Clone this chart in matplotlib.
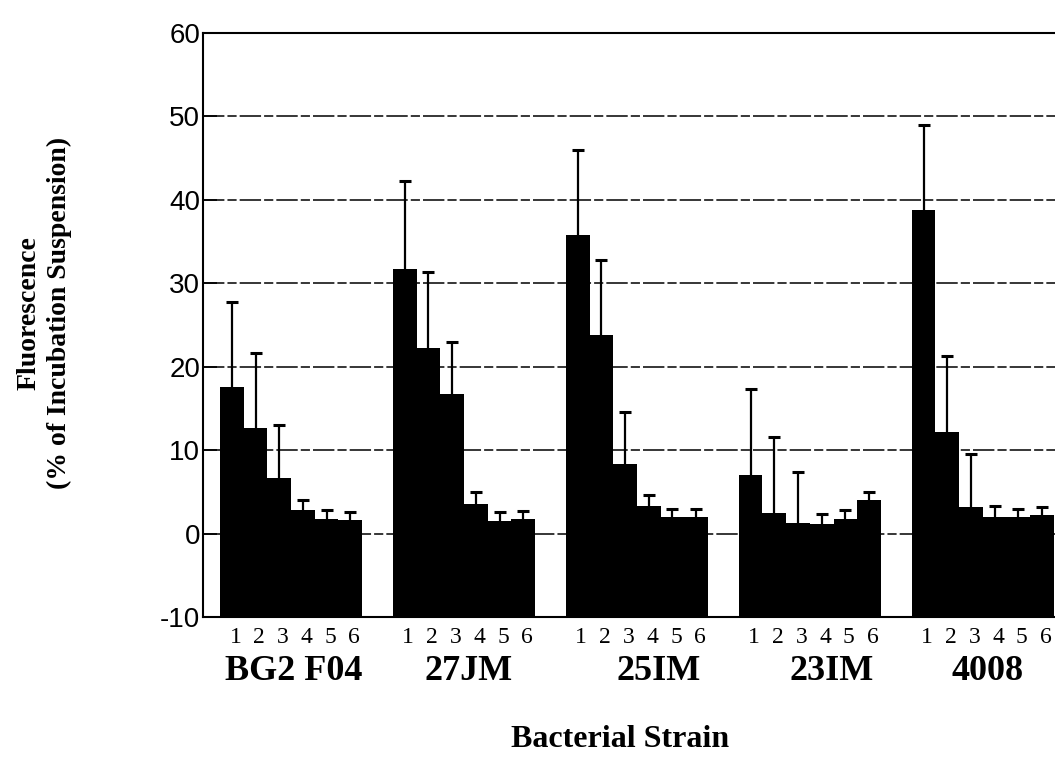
import matplotlib
matplotlib.use("Agg")
import matplotlib.pyplot as plt
import numpy as np

# data (bars start at the -10 baseline)
strains = ["BG2 F04", "27JM", "25IM", "23IM", "4008"]
conditions = ["1", "2", "3", "4", "5", "6"]
means = [
    [17.6, 12.6, 6.7, 2.8, 1.8, 1.6],
    [31.7, 22.2, 16.7, 3.6, 1.5, 1.7],
    [35.8, 23.8, 8.3, 3.3, 2.0, 2.0],
    [7.0, 2.5, 1.3, 1.2, 1.8, 4.0],
    [38.8, 12.2, 3.2, 2.0, 2.0, 2.2],
]
errors = [
    [10.2, 9.0, 6.3, 1.2, 1.0, 1.0],
    [10.5, 9.1, 6.3, 1.4, 1.1, 1.0],
    [10.2, 9.0, 6.3, 1.3, 1.0, 0.9],
    [10.3, 9.1, 6.1, 1.1, 1.0, 1.0],
    [10.2, 9.1, 6.3, 1.3, 1.0, 1.0],
]
baseline = -10

fig = plt.figure(figsize=(10.55, 7.63), dpi=100)
ax = fig.add_axes([0.1924, 0.1913, 0.8076, 0.7655])

group_step = 7.3
serif = "Liberation Serif"
label_shift = [0.1, 0.2, 0.9, 0.9, 0.2]
for g, strain in enumerate(strains):
    x = g * group_step + np.arange(len(conditions)) + 0.5
    vals = np.array(means[g])
    ax.bar(x, vals - baseline, bottom=baseline, width=1.0, color="black",
           edgecolor="black", linewidth=0, zorder=3)
    _, caps, _ = ax.errorbar(x, vals, yerr=[np.zeros(len(vals)), errors[g]], fmt="none",
                             ecolor="black", elinewidth=1.6, capsize=4, capthick=2.2,
                             zorder=4)
    caps[0].set_visible(False)  # no lower caps
    for xi, lab in zip(x, conditions):
        ax.text(xi + 0.15, -11.2, lab, ha="center", va="top", fontsize=17,
                family=serif, clip_on=False)
    ax.text(x.mean() + label_shift[g], -14.6, strain, ha="center",
            va="top", fontsize=26, fontweight="bold", family=serif)

ax.set_ylim(-10, 60)
ax.set_xlim(-0.72, 4 * group_step + 6.05)
ax.set_yticks(np.arange(-10, 61, 10))
ax.set_yticklabels([str(v) for v in range(-10, 61, 10)], family="Liberation Sans",
                   fontsize=20)
ax.tick_params(axis="y", length=10, width=1.2, direction="in", pad=2)
ax.tick_params(axis="x", length=0, labelbottom=False)
ax.yaxis.grid(True, color="black", linewidth=1.1, linestyle=(0, (14, 2, 6, 2)), zorder=1)
ax.set_axisbelow(True)
for side in ["top", "bottom", "left"]:
    ax.spines[side].set_linewidth(1.5)
ax.spines["right"].set_visible(False)

fig.text(0.042, 0.59, "Fluorescence\n(% of Incubation Suspension)", rotation=90,
         ha="center", va="center", fontsize=20, fontweight="bold", family=serif,
         linespacing=1.25)
fig.text(0.588, 0.012, "Bacterial Strain", ha="center", va="bottom", fontsize=23,
         fontweight="bold", family=serif)

fig.savefig("out.png", dpi=100)
